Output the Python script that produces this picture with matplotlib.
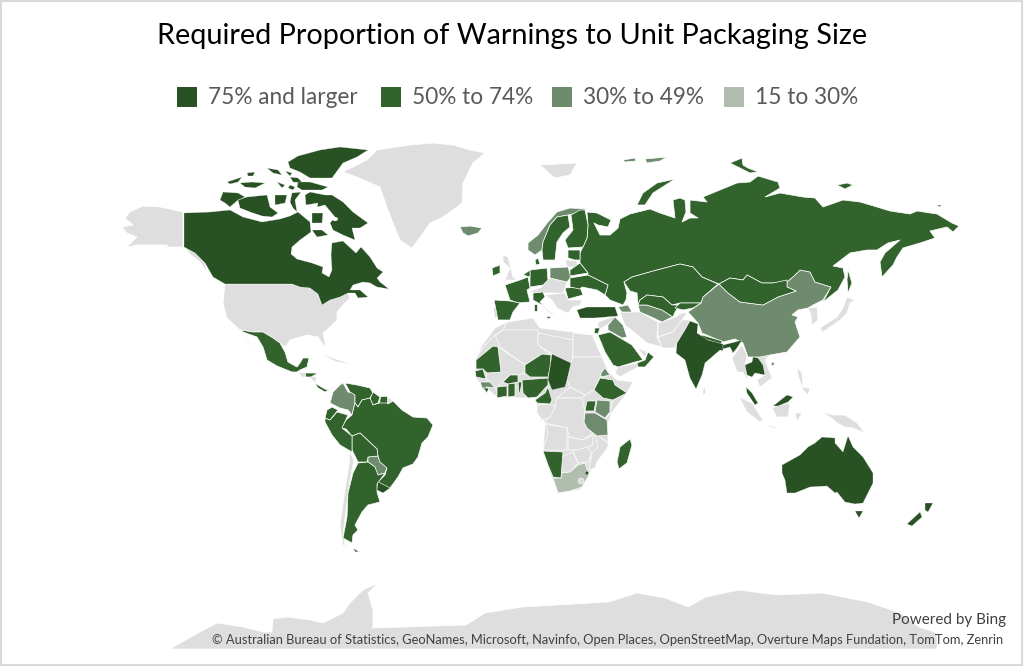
import matplotlib
matplotlib.use("Agg")
import matplotlib.pyplot as plt
from matplotlib.patches import Polygon, Rectangle, Ellipse

# outlines, x/y in image pixels
canada = [
    [(184,213),(210,212),(230,210),(243,217),(262,222),(280,219),(290,216),(298,212),(310,222),(311,232),(300,240),(292,247),(291,254),(297,259),(312,263),(323,267),(322,273),(329,277),(332,270),(331,255),(332,243),(343,241),(356,253),(361,247),(370,257),(377,268),(383,272),(377,278),(380,282),(389,289),(377,287),(370,283),(363,282),(353,285),(350,290),(360,290),(368,297),(358,298),(355,293),(348,293),(340,297),(330,300),(322,305),(318,294),(310,288),(300,287),(292,284),(225,284),(213,277),(205,263),(195,253),(184,247)],
    [(305,195),(310,192),(325,195),(332,195),(343,202),(353,212),(368,223),(360,228),(352,228),(355,240),(343,235),(333,230),(330,223),(335,217),(325,205),(317,207),(318,203),(306,205)],
    [(312,213),(323,213),(322,223),(312,223)],
    [(312,230),(322,230),(328,235),(317,237)],
    [(238,200),(247,197),(267,195),(270,207),(278,213),(272,217),(262,216),(250,212),(240,208)],
    [(223,192),(238,193),(245,197),(238,200),(230,207),(225,203),(220,200)],
    [(275,195),(287,195),(285,203),(275,205)],
    [(292,193),(301,192),(295,200),(297,212),(293,208),(290,202)],
    [(227,182),(242,177),(238,182),(230,184)],
    [(247,173),(255,172),(253,176),(248,176)],
    [(240,183),(252,182),(265,183),(255,188),(245,187)],
    [(267,168),(278,170),(282,175),(273,173)],
    [(277,182),(285,185),(282,188)],
    [(290,185),(295,187),(293,190),(288,188)],
    [(285,171),(292,173),(290,176)],
    [(290,177),(298,178),(303,183),(293,182)],
    [(288,162),(298,156),(320,150),(340,147),(368,150),(357,157),(343,163),(332,178),(310,178),(300,172),(290,168)],
    [(298,182),(310,182),(328,187),(322,190),(302,190),(297,187)],
]
australia = [
    [(782,465),(800,455),(808,447),(815,443),(822,437),(835,438),(835,443),(843,452),(848,436),(853,447),(863,457),(873,473),(873,483),(863,503),(855,504),(845,502),(837,492),(835,493),(827,486),(810,487),(795,493),(787,493),(785,480),(782,473)],
    [(855,511),(863,511),(859,518)],
]
india = [
    [(690,321),(698,324),(697,333),(708,340),(723,344),(723,351),(720,350),(705,363),(702,375),(696,389),(690,378),(685,360),(676,353),(677,343),(685,330)],
    [(723,345),(735,342),(742,340),(737,348),(733,353),(730,347),(723,349)],
]
turkey = [[(577,310),(587,307),(615,307),(618,316),(595,318),(580,318)]]
chad = [[(552,354),(571,363),(567,380),(565,387),(552,390),(548,380),(550,367)]]
thailand = [[(745,365),(752,362),(753,357),(758,358),(763,365),(765,375),(755,373),(752,377),(747,375)]]
malaysia = [
    [(746,387),(752,393),(758,403),(755,405),(747,393)],
    [(773,406),(787,395),(793,397),(788,402),(778,406)],
]
new_zealand_uruguay = [
    [(925,503),(933,503),(928,512),(925,510)],
    [(920,512),(922,517),(912,526),(907,524)],
    [(378,482),(390,488),(383,493),(377,490)],
]

russia = [[(587,212),(597,213),(611,220),(608,227),(598,225),(594,223),(600,235),(610,235),(618,228),(620,219),(630,214),(650,209),(660,213),(675,218),(673,200),(680,198),(685,200),(686,212),(682,222),(690,218),(698,218),(690,213),(690,200),(707,202),(703,197),(720,190),(737,183),(750,182),(758,176),(778,182),(780,188),(765,197),(780,193),(803,197),(815,198),(823,207),(843,200),(860,202),(877,207),(890,211),(910,214),(917,211),(937,214),(952,223),(959,226),(953,232),(947,227),(930,231),(935,238),(920,243),(903,248),(897,257),(893,265),(882,277),(880,262),(885,253),(900,240),(888,243),(877,250),(867,250),(850,253),(833,266),(843,268),(845,277),(838,290),(823,302),(831,287),(815,282),(810,272),(800,270),(795,275),(787,282),(773,283),(762,283),(747,275),(743,280),(730,278),(719,284),(702,277),(693,267),(680,264),(657,270),(632,277),(624,282),(627,293),(626,300),(623,305),(610,300),(605,295),(608,285),(588,275),(588,273),(580,263),(580,253),(583,247),(587,238),(588,225)]]
greater_russia_islands = [
    [(675,179),(657,183),(643,193),(637,205),(645,205),(653,193)],
    [(730,163),(742,158),(743,165),(748,168),(758,172),(750,173),(740,168)],
    [(837,185),(847,183),(853,185),(845,189)],
    [(935,205),(942,205),(940,207)],
    [(848,270),(852,283),(848,293),(847,280)],
]
central_asia = [
    [(632,277),(657,270),(680,264),(693,267),(702,277),(718,284),(703,297),(701,303),(680,303),(672,305),(663,297),(647,295),(640,300),(638,305),(637,293),(630,291),(624,282)],
    [(640,300),(647,295),(663,297),(672,305),(680,305),(675,312),(673,317),(662,310),(647,305),(638,305)],
    [(680,303),(701,303),(693,308),(683,310),(675,308)],
    [(719,284),(730,278),(743,280),(747,275),(762,283),(773,283),(787,280),(787,287),(796,291),(778,297),(763,305),(740,302),(728,293)],
]
europe_green = [
    [(550,225),(557,217),(568,215),(570,227),(563,233),(557,242),(555,260),(543,260),(542,250),(543,242)],
    [(571,215),(580,210),(585,210),(588,225),(587,238),(583,247),(568,248),(565,240),(573,230)],
    [(535,260),(538,258),(540,264),(536,265)],
    [(530,270),(547,268),(548,280),(543,285),(530,287),(530,278)],
    [(505,285),(520,280),(528,277),(530,288),(527,290),(530,302),(518,303),(510,300)],
    [(523,275),(530,270),(530,277)],
    [(494,300),(510,301),(520,303),(513,312),(510,320),(498,320)],
    [(533,293),(543,292),(545,297),(540,302),(550,312),(555,315),(550,313),(542,305),(533,300)],
    [(546,316),(552,317),(548,319)],
    [(534,304),(537,304),(537,311),(534,311)],
    [(492,268),(500,265),(500,273),(493,276)],
    [(565,288),(580,287),(583,295),(568,299)],
    [(570,278),(588,275),(608,285),(605,295),(597,290),(582,287),(580,289),(570,287)],
    [(570,270),(580,263),(588,273),(570,276)],
    [(568,250),(580,250),(580,260),(575,260),(568,258)],
]
latin_green = [
    [(241,330),(253,332),(263,332),(273,338),(280,343),(285,352),(288,362),(297,367),(300,363),(303,358),(309,358),(307,367),(300,370),(297,372),(292,372),(277,366),(267,360),(263,347),(257,337),(243,332)],
    [(241,331),(250,343),(257,353),(247,340),(243,333)],
    [(305,373),(318,373),(311,377),(306,377)],
    [(315,383),(323,388),(327,390),(333,388),(325,392),(318,388)],
    [(345,383),(357,385),(370,388),(373,393),(370,398),(362,400),(358,407),(355,403),(355,395),(350,392)],
    [(373,392),(380,397),(378,403),(373,405),(370,399)],
    [(380,396),(387,396),(387,403),(379,403)],
    [(393,401),(402,410),(413,417),(427,418),(433,425),(428,437),(422,443),(418,457),(413,464),(403,468),(398,477),(390,488),(378,482),(385,475),(387,468),(380,462),(378,456),(377,449),(360,433),(352,436),(346,429),(341,428),(346,420),(352,415),(355,403),(358,407),(362,400),(370,398),(373,405),(379,403),(387,403),(388,404)],
    [(352,436),(360,433),(377,449),(378,456),(368,457),(367,462),(358,462),(352,450)],
    [(325,418),(330,420),(337,412),(348,415),(342,428),(352,436),(352,452),(340,445),(332,435),(325,422)],
    [(327,410),(332,407),(338,410),(330,420),(325,418)],
    [(358,463),(368,462),(375,467),(378,475),(385,473),(377,484),(377,492),(380,502),(368,505),(362,512),(355,525),(358,530),(353,535),(352,543),(343,538),(347,517),(348,493),(353,473)],
    [(353,548),(360,552),(355,552)],
]
africa_green = [
    [(476,360),(493,346),(498,347),(501,372),(487,373),(483,369),(476,369)],
    [(475,371),(483,369),(486,379),(476,377)],
    [(483,388),(489,388),(487,393)],
    [(497,387),(507,386),(507,396),(497,398)],
    [(508,384),(515,383),(515,396),(508,397)],
    [(518,382),(522,382),(520,393),(519,393)],
    [(503,382),(510,375),(518,375),(518,382),(508,384)],
    [(525,365),(542,354),(551,355),(550,367),(548,377),(530,377),(525,373)],
    [(522,380),(548,378),(548,385),(537,397),(528,398),(523,393)],
    [(548,387),(552,400),(550,404),(537,403),(535,400),(545,393)],
    [(600,378),(613,380),(615,385),(627,393),(613,400),(603,398),(594,390)],
    [(587,401),(596,401),(594,411),(585,411)],
    [(543,451),(563,452),(561,478),(553,477),(548,465)],
    [(630,439),(632,445),(627,463),(619,469),(617,462),(620,447)],
    [(598,335),(610,332),(627,342),(632,345),(643,360),(635,362),(618,367),(613,365),(605,352)],
    [(648,352),(654,357),(645,367),(638,367),(637,363),(645,360)],
    [(595,328),(600,328),(598,334),(594,333)],
    [(702,335),(722,341),(721,344),(701,338)],
]
soft_green = [
    [(719,284),(728,293),(740,302),(763,305),(778,297),(796,291),(787,287),(787,282),(795,275),(800,270),(810,272),(815,282),(831,287),(823,300),(813,305),(808,308),(798,310),(792,315),(798,317),(795,322),(800,337),(787,352),(770,355),(760,357),(748,357),(743,343),(735,339),(723,342),(702,333),(698,323),(688,312),(701,303),(703,297)],
    [(772,362),(775,363),(773,366),(771,365)],
    [(343,383),(348,392),(353,393),(355,395),(355,403),(352,415),(348,410),(340,408),(330,403),(333,392),(340,385)],
    [(368,457),(378,456),(380,462),(387,467),(385,473),(377,475),(375,467),(368,462)],
    [(460,227),(470,226),(482,228),(478,233),(468,236),(463,233)],
    [(528,243),(538,235),(548,222),(557,212),(570,208),(587,209),(578,213),(568,215),(557,217),(550,225),(543,242),(542,250),(535,255),(528,250)],
    [(550,268),(568,267),(571,277),(567,282),(550,278)],
    [(638,305),(647,305),(662,310),(673,317),(670,318),(662,322),(647,315),(640,312)],
    [(608,325),(615,317),(623,325),(627,337),(622,338),(608,330)],
    [(618,307),(628,305),(632,312),(622,312)],
    [(480,382),(490,382),(495,388),(487,387),(483,390)],
    [(601,373),(605,368),(610,375),(601,377)],
    [(597,400),(610,401),(610,412),(605,418),(595,412)],
    [(585,413),(595,413),(607,420),(608,435),(597,436),(587,428),(584,422)],
    [(623,160),(635,158),(636,161),(625,162)],
    [(645,159),(667,157),(660,161),(647,163)],
]
pale_green = [
    [(553,478),(561,478),(562,473),(570,472),(578,465),(585,463),(589,475),(582,487),(570,491),(558,493)],
]
no_data = [
    [(343,172),(367,160),(377,150),(410,145),(433,143),(453,145),(470,150),(485,153),(473,163),(463,183),(462,203),(450,212),(443,217),(430,223),(423,233),(412,248),(400,240),(393,223),(388,210),(380,187),(357,177)],
    [(183,212),(160,207),(143,206),(130,212),(125,218),(133,225),(122,227),(127,233),(137,237),(127,247),(137,245),(153,245),(168,245),(157,253),(133,265),(153,255),(167,247),(183,247)],
    [(184,247),(195,253),(205,263),(207,272),(200,262),(190,254)],
    [(225,284),(292,284),(300,287),(310,288),(318,294),(322,305),(330,300),(340,297),(348,293),(350,298),(343,305),(337,312),(337,320),(330,327),(323,333),(326,347),(322,343),(318,337),(307,335),(290,340),(285,347),(273,338),(263,332),(253,332),(240,330),(227,318),(223,303)],
    [(318,353),(330,357),(353,365),(337,362)],
    [(298,372),(305,373),(307,377),(302,377)],
    [(308,376),(317,377),(315,383),(310,378)],
    [(387,396),(393,401),(388,404)],
    [(350,452),(354,460),(350,480),(346,510),(343,535),(345,545),(352,550),(343,545),(340,525),(345,490),(349,465)],
    [(540,165),(577,163),(570,175),(555,178)],
    [(503,255),(508,257),(513,277),(518,280),(505,280),(510,268),(503,262)],
    [(493,307),(498,307),(498,317),(494,317)],
    [(543,282),(550,278),(567,282),(563,293),(545,293),(528,292),(542,287)],
    [(545,295),(565,293),(568,300),(582,300),(580,305),(573,307),(568,313),(565,312),(557,308),(552,300)],
    [(565,260),(577,261),(577,267),(567,267)],
    # Africa, whole continent first then the countries on top
    [(475,360),(483,347),(495,328),(507,322),(533,318),(540,328),(573,332),(597,337),(592,338),(603,363),(610,373),(617,380),(633,382),(627,393),(612,412),(608,423),(608,443),(595,463),(587,478),(580,490),(558,493),(550,473),(543,451),(545,423),(537,407),(537,398),(523,398),(497,397),(477,380)],
    [(495,335),(503,330),(538,330),(538,345),(551,355),(542,354),(525,365),(500,347)],
    [(495,328),(507,322),(503,330),(495,335),(483,347),(476,358),(482,345),(490,335)],
    [(538,333),(573,340),(573,357),(571,363),(552,354),(538,345)],
    [(573,333),(592,335),(602,357),(573,357)],
    [(498,347),(525,365),(525,373),(518,375),(510,375),(503,382),(497,387),(495,388),(490,382),(486,379),(487,373),(501,372)],
    [(573,357),(602,357),(610,375),(600,378),(594,390),(585,395),(570,387),(567,380),(571,363)],
    [(557,398),(570,387),(585,395),(582,398)],
    [(557,398),(582,398),(585,411),(584,422),(593,433),(583,440),(570,437),(567,428),(545,423),(550,415),(555,407)],
    [(537,405),(550,404),(555,407),(550,417),(542,420),(537,413)],
    [(545,424),(567,428),(567,450),(543,450),(548,433)],
    [(568,437),(583,440),(593,435),(593,445),(580,450),(568,450)],
    [(595,433),(608,443),(608,447),(597,462),(595,468),(589,470),(592,453),(598,447)],
    [(561,457),(573,452),(578,463),(570,472),(562,473)],
    [(573,451),(587,447),(592,453),(588,462),(578,463)],
    [(613,400),(627,393),(612,412),(606,418),(610,412)],
    # Middle East and South Asia
    [(598,322),(618,315),(613,320),(607,325),(598,330)],
    [(620,312),(640,312),(658,322),(657,337),(662,347),(647,343),(635,333),(625,325)],
    [(658,323),(673,318),(682,313),(687,313),(682,320),(673,332),(658,337)],
    [(658,337),(673,332),(682,320),(690,320),(685,330),(677,343),(675,348),(662,348)],
    [(618,367),(637,363),(638,367),(620,377),(615,373)],
    [(638,348),(647,352),(645,358)],
    # South-east Asia and the islands
    [(732,358),(742,345),(747,355),(745,365),(748,382),(743,372),(737,372)],
    [(755,355),(770,355),(765,360),(772,378),(760,387),(757,380),(765,375),(763,365)],
    [(739,397),(752,403),(763,420),(760,422),(747,412)],
    [(763,424),(780,428),(773,428)],
    [(772,408),(780,405),(790,403),(788,417),(777,417)],
    [(795,413),(802,413),(797,422)],
    [(797,367),(802,373),(803,387),(810,388),(808,395),(803,390),(798,375)],
    [(823,412),(833,415),(845,415),(857,423),(865,433),(853,428),(845,427),(837,423),(830,417)],
    [(703,388),(705,388),(706,393),(703,395)],
    [(847,297),(855,300),(850,303),(847,313),(840,320),(823,332),(820,328),(837,317),(843,308)],
    [(808,308),(817,307),(818,320),(812,325),(811,315)],
    # Antarctica
    [(170,649),(200,632),(217,623),(243,627),(263,632),(272,632),(273,619),(287,617),(310,620),(323,623),(343,613),(350,603),(363,590),(378,583),(368,593),(373,610),(373,625),(372,628),(466,625),(485,613),(522,607),(591,603),(609,602),(637,593),(665,598),(688,607),(706,597),(739,590),(776,595),(822,593),(868,602),(900,613),(919,627),(937,633),(937,649)],
]

bin_labels = ["75% and larger", "50% to 74%", "30% to 49%", "15 to 30%"]
bin_colors = ["#285124", "#32632d", "#6f8b6d", "#b0bdaf"]
land_color = "#dedede"
swatch_x = [177, 381, 552, 724]
label_x = [208, 412, 583, 755]

title = "Required Proportion of Warnings to Unit Packaging Size"
credit_top = "Powered by Bing"
credit_bottom = ("\u00a9 Australian Bureau of Statistics, GeoNames, Microsoft, Navinfo, "
                 "Open Places, OpenStreetMap, Overture Maps Fundation, TomTom, Zenrin")

plt.rcParams['font.family'] = ['Lato', 'DejaVu Sans']

fig = plt.figure(figsize=(10.24, 6.68), dpi=100)
ax = fig.add_axes([0, 0, 1, 1])
ax.set_xlim(0, 1024)
ax.set_ylim(668, 0)
ax.axis('off')

# chart frame
ax.add_patch(Rectangle((1, 1), 1021, 664, fc='white', ec='#d9d9d9', lw=1.5))


def draw_shapes(shapes, color, edge='white', lw=0.5):
    for pts in shapes:
        ax.add_patch(Polygon(pts, closed=True, fc=color, ec=edge, lw=lw,
                             joinstyle='round'))


draw_shapes(no_data, land_color, lw=0.5)
draw_shapes(pale_green, bin_colors[3])
draw_shapes(soft_green, bin_colors[2])
for shapes in (russia, greater_russia_islands, central_asia, europe_green,
               latin_green, africa_green):
    draw_shapes(shapes, bin_colors[1])
for shapes in (canada, australia, india, turkey, chad, thailand, malaysia,
               new_zealand_uruguay):
    draw_shapes(shapes, bin_colors[0], lw=0.2)

# Baffin lake, Lesotho and eSwatini
ax.add_patch(Ellipse((335, 219), 6, 4, fc='white', ec='none'))
ax.add_patch(Ellipse((581, 481), 6, 6, fc=land_color, ec='white', lw=0.4))
ax.add_patch(Ellipse((587, 473), 3, 3, fc=bin_colors[0], ec='none'))

ax.text(512, 36, title, ha='center', va='center', fontsize=20.8, color='black')
for x0, tx, lab, col in zip(swatch_x, label_x, bin_labels, bin_colors):
    ax.add_patch(Rectangle((x0, 87), 20, 20, fc=col, ec='none'))
    ax.text(tx, 98, lab, ha='left', va='center', fontsize=16.3, color='#595959')

ax.text(1006, 620, credit_top, ha='right', va='center', fontsize=11, color='#404040')
ax.text(1003, 640, credit_bottom, ha='right', va='center', fontsize=9.25, color='#404040')

fig.savefig('out.png', dpi=100)
